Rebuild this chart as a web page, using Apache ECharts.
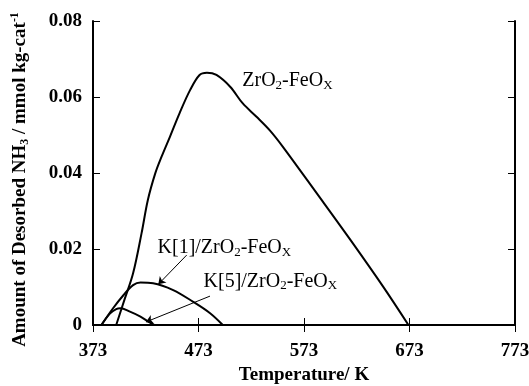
<!DOCTYPE html>
<html>
<head>
<meta charset="utf-8">
<script src="https://cdn.jsdelivr.net/npm/echarts@6/dist/echarts.min.js"></script>
<style>
  html, body { margin: 0; padding: 0; background: #fff; }
  #chart { width: 529px; height: 386px; }
</style>
</head>
<body>
<div id="chart"></div>
<script>
// ZrO2-FeOx 脱附曲线
const zrTemp = [395, 403, 411, 419, 425, 432, 438, 446, 455, 465, 474, 481, 490, 503, 515, 528, 541, 553, 585, 617, 648, 672]
const zrValue = [0, 0.0068, 0.0136, 0.0241, 0.0329, 0.0399, 0.0443, 0.0496, 0.0557, 0.0618, 0.0658, 0.0664, 0.0658, 0.0627, 0.0583, 0.0548, 0.0511, 0.0469, 0.0347, 0.0224, 0.0101, 0]

// K[1]/ZrO2-FeOx
const k1Temp = [381, 392, 402, 411, 418, 430, 449, 468, 484, 496]
const k1Value = [0, 0.0044, 0.0079, 0.0105, 0.0112, 0.011, 0.0092, 0.0061, 0.0031, 0]

// K[5]/ZrO2-FeOx
const k5Temp = [381, 389, 395, 399, 408, 418, 427, 431]
const k5Value = [0, 0.003, 0.0042, 0.0044, 0.0035, 0.0022, 0.0006, 0]

// 坐标轴刻度
const xTicks = [373, 473, 573, 673, 773]
const yTicks = [0, 0.02, 0.04, 0.06, 0.08]

const font = 'Liberation Serif'
const sub = { fontSize: 13, fontFamily: font, lineHeight: 6, verticalAlign: 'bottom' }
const sup = { fontSize: 12, fontFamily: font, lineHeight: 6, verticalAlign: 'top', fontWeight: 'bold' }
const main = { fontSize: 20, fontFamily: font, lineHeight: 22, color: '#000' }

const toPairs = (xs, ys) => xs.map((x, i) => [x, ys[i]])

// 文字标注
const textMark = (coord, text) => ({
  silent: true,
  symbol: 'circle',
  symbolSize: 1,
  itemStyle: { color: 'rgba(0,0,0,0)' },
  label: {
    show: true,
    position: 'right',
    distance: 0,
    formatter: text,
    color: '#000',
    fontFamily: font,
    fontSize: 20,
    rich: { m: main, s: sub }
  },
  data: [{ coord: coord }]
})

// 箭头
const arrowMark = (from, to) => ({
  silent: true,
  symbol: ['none', 'arrow'],
  symbolSize: 7,
  label: { show: false },
  lineStyle: { color: '#000', width: 1, type: 'solid' },
  data: [[{ coord: from }, { coord: to }]]
})

const lineSeries = (name, data) => ({
  name: name,
  type: 'line',
  data: data,
  smooth: 0.35,
  symbol: 'none',
  lineStyle: { color: '#000', width: 2 }
})

const chart = echarts.init(document.getElementById('chart'))

const tickLabel = { fontFamily: font, fontSize: 19, fontWeight: 'bold', color: '#000' }
const frameAxis = {
  axisLine: { show: true, lineStyle: { color: '#000', width: 2 } },
  axisTick: { show: true, inside: true, length: 7, lineStyle: { color: '#000', width: 1 } },
  splitLine: { show: false }
}

const option = {
  animation: false,
  grid: { left: 93, right: 14, top: 21, bottom: 61, outerBoundsMode: 'none', containLabel: false },
  xAxis: [
    {
      type: 'value',
      min: xTicks[0],
      max: xTicks[xTicks.length - 1],
      interval: xTicks[1] - xTicks[0],
      ...frameAxis,
      axisLabel: { ...tickLabel, margin: 17 },
      name: 'Temperature/ K',
      nameLocation: 'middle',
      nameGap: 41,
      nameTextStyle: { ...tickLabel }
    },
    {
      type: 'value',
      position: 'top',
      min: xTicks[0],
      max: xTicks[xTicks.length - 1],
      interval: xTicks[1] - xTicks[0],
      ...frameAxis,
      axisLabel: { show: false }
    }
  ],
  yAxis: [
    {
      type: 'value',
      min: yTicks[0],
      max: yTicks[yTicks.length - 1],
      interval: yTicks[1] - yTicks[0],
      ...frameAxis,
      axisLabel: {
        ...tickLabel,
        margin: 11,
        formatter: v => (v === 0 ? '0' : v.toFixed(2))
      },
      name: '{b|Amount of Desorbed NH}{s|3}{b| / mmol kg-cat}{p|-1}',
      nameLocation: 'middle',
      nameGap: 62,
      nameTextStyle: {
        ...tickLabel,
        padding: [0, 13, 0, 0],
        rich: {
          b: { ...tickLabel, lineHeight: 22 },
          s: { ...sub, fontWeight: 'bold', fontSize: 12 },
          p: sup
        }
      }
    },
    {
      type: 'value',
      position: 'right',
      min: yTicks[0],
      max: yTicks[yTicks.length - 1],
      interval: yTicks[1] - yTicks[0],
      ...frameAxis,
      axisLabel: { show: false }
    }
  ],
  series: [
    {
      ...lineSeries('ZrO2-FeOx', toPairs(zrTemp, zrValue)),
      markPoint: textMark([514, 0.0642], '{m|ZrO}{s|2}{m|-FeO}{s|X}')
    },
    {
      ...lineSeries('K[1]/ZrO2-FeOx', toPairs(k1Temp, k1Value)),
      markPoint: textMark([433.7, 0.0202], '{m|K[1]/ZrO}{s|2}{m|-FeO}{s|X}'),
      markLine: arrowMark([461.8, 0.0184], [434.9, 0.0107])
    },
    {
      ...lineSeries('K[5]/ZrO2-FeOx', toPairs(k5Temp, k5Value)),
      markPoint: textMark([477.3, 0.01145], '{m|K[5]/ZrO}{s|2}{m|-FeO}{s|X}'),
      markLine: arrowMark([483.9, 0.0076], [423.2, 0.0008])
    }
  ]
}

chart.setOption(option)
</script>
</body>
</html>
